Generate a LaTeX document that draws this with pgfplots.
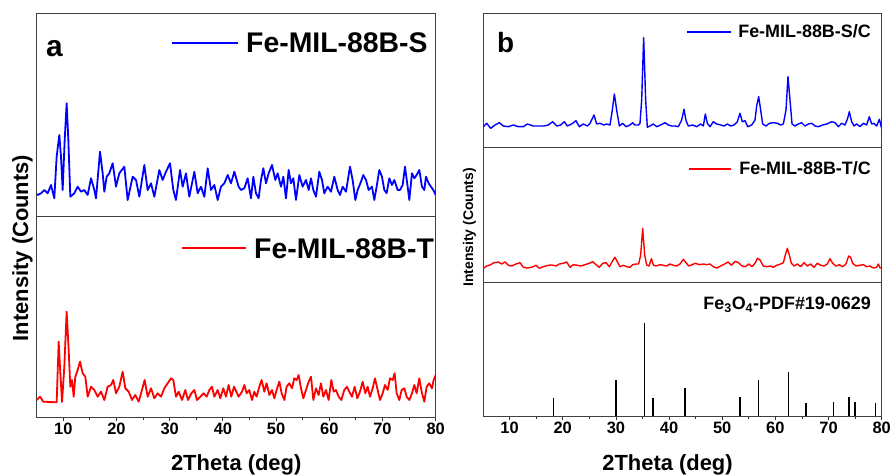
\documentclass[border=0pt]{standalone}
\usepackage{fontspec}
\setmainfont{Liberation Sans}
\usepackage{pgfplots}
\pgfplotsset{compat=1.18}
\begin{document}
\begin{tikzpicture}
\path[use as bounding box] (0,0) rectangle (891bp,476bp);
\pgfplotsset{
  base/.style={scale only axis, anchor=south west, xmin=5, xmax=80, ymin=0,
    ytick=\empty, axis line style={black!75, line width=0.9bp},
    tick align=outside, xtick pos=left, ytick pos=left},
  notick/.style={base, xtick=\empty},
  withtick/.style={base, xtick={10,20,...,80}, minor x tick num=1,
    major tick length=4bp, minor tick length=2.5bp,
    tick style={black!80, line width=0.8bp},
    xticklabel style={font=\bfseries\fontsize{16.5}{18}\selectfont, yshift=1bp},
    /pgf/number format/assume math mode=true},
  curve/.style={no marks, line join=round, #1}
}
% ---------------- panel a, top ----------------
\begin{axis}[notick, at={(36.7bp,260bp)}, width=399bp, height=203bp, ymax=203]
\addplot[curve={blue, line width=1.8bp}] coordinates {
(5.0,22) (5.18,21) (5.81,22.7) (6.43,26) (7.06,22.7) (7.69,31) (8.31,17.7) (8.75,59.3) (9.25,81) (9.57,59.3) (9.88,26) (10.26,76) (10.63,112.7) (10.95,76) (11.32,19.3) (12.07,22.7) (12.70,29.3) (13.33,24.3) (13.95,26) (14.58,21) (15.21,37.7) (15.83,26) (16.15,17.7) (16.90,64.3) (17.40,42.7) (17.71,24.3) (18.15,39.3) (18.65,42.7) (19.28,52.7) (19.91,29.3) (20.53,42.7) (21.47,49.3) (22.10,16) (23.04,39.3) (23.67,36) (24.29,19.3) (25.23,51) (25.86,26) (26.49,32.7) (27.11,19.3) (28.05,46) (28.68,36) (29.30,44.3) (30.06,52.7) (30.68,26) (31.18,16) (31.94,46) (32.44,29.3) (33.06,42.7) (33.69,19.3) (34.63,44.3) (35.26,22.7) (35.88,29.3) (36.51,19.3) (37.14,47.7) (37.76,26) (38.39,31) (39.02,16) (39.64,29.3) (40.27,32.7) (40.90,41) (41.52,32.7) (42.15,44.3)
(42.96,29.3) (43.40,26) (44.03,27.7) (44.65,37.7) (45.28,17.7) (45.72,39.3) (46.22,22.7) (46.72,17.7) (47.16,36) (47.60,47.7) (48.10,32.7) (48.60,42.7) (49.23,51) (49.85,36) (50.29,42.7) (50.92,29.3) (51.36,39.3) (51.86,17.7) (52.36,46) (52.80,32.7) (53.24,37.7) (53.74,16) (54.37,41) (54.99,29.3) (55.62,36) (56.12,26) (56.56,37.7) (57.00,26) (57.50,19.3) (58.12,44.3) (58.63,36) (59.06,22.7) (59.69,29.3) (60.32,24.3) (60.94,39.3) (61.57,26) (62.01,21) (62.51,29.3) (63.14,24.3) (63.89,49.3) (64.39,36) (64.89,16) (65.33,26) (65.96,34.3) (66.39,41) (66.90,36) (67.40,26) (68.02,29.3) (68.46,16) (68.90,29.3) (69.40,46) (69.90,39.3) (70.34,26) (70.78,22.7) (71.28,37.7) (71.78,31) (72.22,36) (72.85,26) (73.29,26) (73.79,31) (74.23,49.3) (74.73,29.3) (75.04,16) (75.54,42.7) (75.98,37.7) (76.42,41) (76.92,46) (77.42,29.3) (77.86,26) (78.17,39.3) (78.68,32.7) (79.11,29.3) (79.55,26) (80,21)
};
\end{axis}
% ---------------- panel a, bottom ----------------
\begin{axis}[withtick, at={(36.7bp,59bp)}, width=399bp, height=201bp, ymax=201]
\addplot[curve={red, line width=1.8bp}] coordinates {
(5.0,17) (5.62,20.3) (6.25,15.3) (8.75,14.7) (9.13,75.3) (9.38,50) (9.76,15) (10.19,50) (10.63,105.3) (11.01,67) (11.32,30.3) (11.64,37) (11.95,20.3) (12.26,40.3) (12.70,47) (13.14,55.3) (13.64,43.7) (14.14,40.3) (14.58,20.3) (15.21,30.3) (15.83,27) (16.46,20.3) (17.09,25.3) (17.71,17) (18.34,30.3) (18.97,32) (19.40,37) (19.91,23.7) (20.53,30.3) (21.16,45.3) (21.66,28.7) (22.29,25.3) (22.91,17) (23.54,22) (24.17,15.3) (24.79,27) (25.29,37) (25.86,20.3) (26.49,28.7) (27.11,18.7) (27.74,23.7) (28.37,20.3) (28.99,28.7) (29.62,33.7) (30.24,38.7) (30.68,37) (31.18,20.3) (31.69,25.3) (32.31,17) (32.94,27) (33.44,17) (34.07,23.7) (34.63,27) (35.13,17) (35.76,20.3) (36.38,23.7) (36.95,20.3) (37.45,27) (37.95,30.3) (38.39,20.3) (39.02,27) (39.52,18.7) (40.08,28.7) (40.58,20.3) (41.08,32) (41.58,20.3) (42.09,30.3)
(42.96,20.3) (43.59,25.3) (44.03,32) (44.47,23.7) (44.97,27) (45.47,17) (45.91,25.3) (46.34,20.3) (46.85,30.3) (47.28,37) (47.79,25.3) (48.22,33.7) (48.73,22) (49.23,27) (49.67,18.7) (50.10,27) (50.61,35.3) (51.04,23.7) (51.55,17) (51.98,30.3) (52.48,33.7) (52.99,28.7) (53.42,38.7) (53.86,37) (54.24,42) (54.68,28.7) (55.12,18.7) (55.62,27) (56.12,35.3) (56.56,40.3) (57.00,17) (57.50,28.7) (58.00,22) (58.44,33.7) (58.88,20.3) (59.38,27) (59.88,17) (60.38,37) (60.82,25.3) (61.26,27) (61.76,20.3) (62.26,17) (62.82,27) (63.32,30.3) (63.76,25.3) (64.26,20.3) (64.77,30.3) (65.27,18.7) (65.77,25.3) (66.27,35.3) (66.77,23.7) (67.21,30.3) (67.65,20.3) (68.15,28.7) (68.59,38.7) (69.09,27) (69.53,17) (70.03,23.7) (70.47,32) (70.97,27) (71.41,38.7) (71.91,37) (72.28,43.7) (72.66,23.7) (73.16,17) (73.60,27) (74.10,28.7) (74.54,20.3) (75.04,17) (75.54,23.7) (75.98,32) (76.42,23.7) (76.92,38.7) (77.36,25.3) (77.86,15.3) (78.30,30.3) (78.80,33.7) (79.30,28.7) (79.62,37) (80.0,42)
};
\end{axis}
% ---------------- panel b, top ----------------
\begin{axis}[notick, at={(483bp,329bp)}, width=398.7bp, height=134bp, ymax=134]
\addplot[curve={blue, line width=1.4bp}] coordinates {
(5.06,20.3) (5.69,23.7) (6.44,18.7) (7.26,22) (8.07,24.3) (8.82,21) (9.77,20.3) (10.71,22) (11.65,20.3) (12.59,20.3) (13.34,23) (14.47,21) (15.41,21) (16.35,21) (17.29,22) (18.11,25.3) (18.86,21) (19.61,22) (20.30,25.3) (20.86,21) (21.68,23) (22.49,26.3) (23.12,20.3) (23.87,23) (24.63,21) (25.13,23.7) (25.88,32) (26.38,23) (27.01,23.7) (27.76,22) (28.26,23) (28.89,22) (29.33,37) (29.71,53) (30.14,37) (30.65,21) (31.27,23.7) (31.90,20.3) (32.65,22) (33.15,24.3) (33.59,22) (34.22,22) (34.53,23.7) (34.85,47) (35.22,109.3) (35.60,47) (35.91,19.7) (36.41,21) (37.04,23) (37.67,20.3) (38.42,22) (39.24,24.3) (39.86,22) (40.49,21) (41.12,21) (41.74,20.3) (42.37,27) (42.81,37.7) (43.19,26.3) (43.63,21) (44.44,22) (45.19,20.3) (45.95,23) (46.45,21) (46.82,33) (47.20,23.7) (47.70,20.3) (48.33,25.3) (48.96,23) (49.71,22) (50.33,21) (50.96,23) (51.59,21) (52.22,22) (52.84,25.3) (53.34,33.7) (53.78,25.3) (54.29,26.3) (54.79,20.3) (55.54,22) (56.17,27) (56.48,41) (56.86,50.3) (57.23,37) (57.61,23) (58.24,21) (58.86,23.7) (59.62,24.3) (60.37,23.7) (60.99,22) (61.50,23) (62.00,37) (62.37,70.3) (62.75,47) (63.13,23) (63.69,21) (64.32,23) (64.95,24.3) (65.57,21) (66.20,23) (66.83,23.7) (67.45,21) (68.08,20.3) (68.90,22) (69.65,23) (70.59,25.3) (71.22,24.3) (71.84,20.3) (72.47,23.7) (73.10,22) (73.60,28.7) (73.91,35.3) (74.35,25.3) (74.79,21) (75.29,23) (75.92,20.3) (76.55,23.7) (77.17,22) (77.67,30.3) (78.11,23) (78.55,23.7) (79.05,21) (79.56,27.7) (79.99,18.7)
};
\end{axis}
% ---------------- panel b, middle ----------------
\begin{axis}[notick, at={(483bp,194bp)}, width=398.7bp, height=135bp, ymax=135]
\addplot[curve={red, line width=1.4bp}] coordinates {
(5.06,13.7) (5.69,16) (6.32,17) (7.07,19.3) (7.88,20) (8.51,18) (9.14,20) (9.77,16.7) (10.39,16) (11.21,18) (11.96,19.3) (12.59,14.7) (13.34,14) (14.15,14.7) (14.97,16.7) (15.60,13.7) (16.35,15.3) (17.29,16.7) (17.92,17) (18.73,16) (19.36,18) (20.11,18.7) (20.74,20) (21.37,14.7) (21.99,17.3) (22.75,16.7) (23.37,16) (24.19,17.3) (25.00,18.7) (25.63,20.3) (26.26,17.3) (26.88,14.7) (27.51,18.7) (28.14,19.3) (28.77,15.3) (29.39,21.3) (29.83,24.7) (30.27,20.3) (30.77,15.3) (31.40,16.7) (32.03,15.3) (32.65,14.7) (33.15,17.3) (33.78,18) (34.28,18) (34.66,27) (35.04,53.7) (35.41,27) (35.79,17) (36.23,16) (36.67,23.3) (37.04,17) (37.54,16) (38.30,17.3) (38.92,16.7) (39.55,16) (40.18,18) (40.80,16.7) (41.43,16) (42.06,18) (42.69,22.7) (43.19,19.3) (43.69,16) (44.32,17.3) (44.94,18.7) (45.69,17.3) (46.45,18) (47.07,17.3) (47.70,18) (48.33,15.3) (48.96,14) (49.71,16) (50.46,18) (51.09,20) (51.71,16.7) (52.47,20.7) (53.09,19.3) (53.72,16) (54.35,15.3) (54.98,18) (55.60,15.3) (56.23,19.3) (56.61,23.7) (57.11,22) (57.73,16) (58.36,15.3) (58.99,16) (59.62,14.7) (60.24,16.7) (60.99,18) (61.50,19.3) (61.87,27) (62.25,33.7) (62.62,27) (63.00,18.7) (63.50,16) (64.13,18) (64.76,15.3) (65.38,19.3) (66.01,16) (66.64,18) (67.26,14.7) (67.89,18.7) (68.52,16.7) (69.15,16) (69.77,18) (70.27,23.3) (70.78,18.7) (71.40,16) (72.03,17.3) (72.66,15.3) (73.28,18) (73.79,26) (74.16,24.7) (74.54,18.7) (75.17,16) (75.79,16.7) (76.55,17.3) (77.17,15.3) (77.80,16) (78.43,14) (79.05,14.7) (79.37,18) (79.68,14) (79.99,14.7)
};
\end{axis}
% ---------------- panel b, bottom (reference sticks) ----------------
\begin{axis}[withtick, at={(483bp,60bp)}, width=398.7bp, height=134bp, ymax=134]
\addplot[ycomb, no marks, black, line width=1.2bp] coordinates {
(18.23,17.7) (30.02,36) (35.41,93.3) (36.98,17.7) (43.00,27.7) (53.34,19.3) (56.86,36) (62.50,44) (65.76,12.7) (70.90,14.3) (73.85,19.3) (74.98,14.3) (78.87,12.7)
};
\end{axis}
% ---------------- labels ----------------
\node[anchor=base west, inner sep=0, font=\bfseries\fontsize{30}{30}\selectfont] at (46bp,419bp) {a};
\node[anchor=base west, inner sep=0, font=\bfseries\fontsize{28}{28}\selectfont] at (497bp,423bp) {b};
\draw[blue, line width=1.5bp] (172bp,433bp) -- (238bp,433bp);
\node[anchor=base west, inner sep=0, font=\bfseries\fontsize{28.5}{30}\selectfont] at (246bp,423bp) {Fe-MIL-88B-S};
\draw[red, line width=1.5bp] (182bp,228bp) -- (246bp,228bp);
\node[anchor=base west, inner sep=0, font=\bfseries\fontsize{28.5}{30}\selectfont] at (254bp,217bp) {Fe-MIL-88B-T};
\draw[blue, line width=1.3bp] (687bp,444bp) -- (731bp,444bp);
\node[anchor=base east, inner sep=0, font=\bfseries\fontsize{18}{20}\selectfont] at (871bp,438bp) {Fe-MIL-88B-S/C};
\draw[red, line width=1.3bp] (689bp,307bp) -- (731bp,307bp);
\node[anchor=base east, inner sep=0, font=\bfseries\fontsize{18}{20}\selectfont] at (871bp,301bp) {Fe-MIL-88B-T/C};
\node[anchor=base east, inner sep=0, font=\bfseries\fontsize{18}{20}\selectfont] at (871bp,166bp) {Fe\textsubscript{3}O\textsubscript{4}-PDF\#19-0629};
\node[anchor=base, inner sep=0, font=\bfseries\fontsize{22}{24}\selectfont] at (236.2bp,6bp) {2Theta (deg)};
\node[anchor=base, inner sep=0, font=\bfseries\fontsize{22}{24}\selectfont] at (667.5bp,6bp) {2Theta (deg)};
\node[anchor=base, rotate=90, inner sep=0, font=\bfseries\fontsize{22}{24}\selectfont] at (28bp,228bp) {Intensity (Counts)};
\node[anchor=base, rotate=90, inner sep=0, font=\bfseries\fontsize{14}{16}\selectfont] at (473bp,248.5bp) {Intensity (Counts)};
\end{tikzpicture}
\end{document}
